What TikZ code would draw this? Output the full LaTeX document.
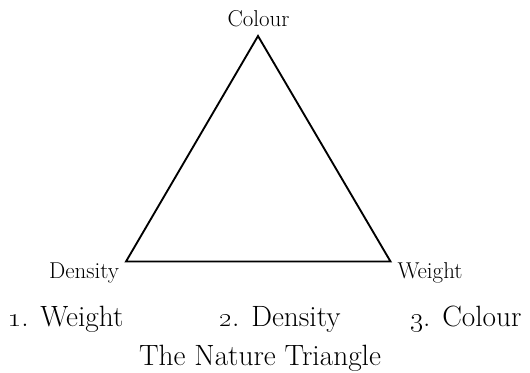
\documentclass[tikz,border=0pt]{standalone}
\begin{document}
\begin{tikzpicture}[x=0.75pt,y=-0.75pt,
  small/.style={font=\fontsize{17.2}{20}\selectfont, inner sep=0pt, anchor=base},
  big/.style={font=\fontsize{22}{26}\selectfont, inner sep=0pt, anchor=base},
  edge/.style={line width=1.4pt, line join=miter}]
\useasboundingbox (0,0) rectangle (530,373);
\coordinate (top) at (258,36);
\coordinate (bl) at (126,261.5);
\coordinate (br) at (390.5,261.5);
\draw[edge] (top) -- (bl) -- (br) -- cycle;
\node[small] (colour) at (258.5,27) {Colour};
\node[small] (density) at (84,278) {Density};
\node[small] (weight) at (430,278) {Weight};
\node[big] (w1) at (66,326) {\oldstylenums{1}. Weight};
\node[big] (d2) at (280,326) {\oldstylenums{2}. Density};
\node[big] (c3) at (466,326) {\oldstylenums{3}. Colour};
\node[big] (title) at (260,365) {The Nature Triangle};
\end{tikzpicture}
\end{document}
